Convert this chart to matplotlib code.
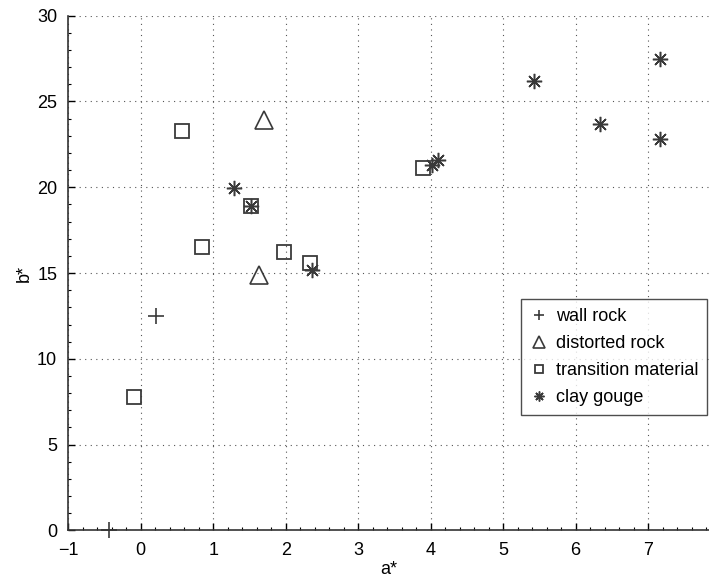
import matplotlib
matplotlib.use("Agg")
import matplotlib.pyplot as plt
from matplotlib.ticker import MultipleLocator

plt.rcParams['font.family'] = ['Liberation Sans', 'DejaVu Sans']

wall_a = [-0.44, 0.21]
wall_b = [0.0, 12.5]
dist_a = [1.70, 1.63]
dist_b = [23.9, 14.9]
trans_a = [0.57, 0.84, 1.52, 1.97, 2.34, -0.10, 3.89]
trans_b = [23.3, 16.5, 18.9, 16.2, 15.6, 7.75, 21.15]
clay_a = [1.28, 1.52, 2.36, 4.02, 4.10, 5.42, 6.33, 7.17, 7.17]
clay_b = [19.95, 18.9, 15.2, 21.3, 21.6, 26.2, 23.7, 27.5, 22.8]

xticks = [-1, 0, 1, 2, 3, 4, 5, 6, 7]
yticks = [0, 5, 10, 15, 20, 25, 30]

col = '#3a3a3a'
fig = plt.figure(figsize=(7.09, 5.81), dpi=100)
ax = fig.add_axes([0.0963, 0.087, 0.9037, 0.886])

ax.plot(wall_a, wall_b, linestyle='none', marker='+', ms=12, mew=1.2, color=col, label='wall rock', clip_on=False)
ax.plot(dist_a, dist_b, linestyle='none', marker='^', ms=13, mew=1.2, mfc='none', color=col, label='distorted rock')
ax.plot(trans_a, trans_b, linestyle='none', marker='s', ms=9.5, mew=1.3, mfc='none', color=col, label='transition material')
ax.plot(clay_a, clay_b, linestyle='none', marker=(8, 2, 0), ms=11, mew=1.1, color=col, label='clay gouge')

ax.set_xlim(-1, 7.84)
ax.set_ylim(0, 30)
ax.set_xticks(xticks)
ax.set_yticks(yticks)
ax.set_xticklabels(['\u22121' if t == -1 else str(t) for t in xticks])
ax.xaxis.set_minor_locator(MultipleLocator(0.2))
ax.yaxis.set_minor_locator(MultipleLocator(1))
ax.tick_params(which='major', direction='in', length=5, width=1, labelsize=13, pad=8)
ax.tick_params(which='minor', direction='in', length=2, width=0.8)
ax.grid(True, which='major', linestyle=(0, (1, 4)), color='#555555', linewidth=0.8)
for s in ['top', 'right']:
    ax.spines[s].set_visible(False)
for s in ['left', 'bottom']:
    ax.spines[s].set_linewidth(1.2)
    ax.spines[s].set_color('#333333')

ax.set_xlabel('a*', fontsize=13, labelpad=2)
ax.set_ylabel('b*', fontsize=13, labelpad=3)

leg = ax.legend(loc='upper left', bbox_to_anchor=(0.707, 0.449), frameon=True, fancybox=False,
                fontsize=13, markerscale=0.65, handlelength=1.0, handletextpad=0.4,
                borderpad=0.5, borderaxespad=0, labelspacing=0.55)
leg.get_frame().set_edgecolor('#222222')
leg.get_frame().set_linewidth(1.0)

fig.savefig('out.png', dpi=100)
